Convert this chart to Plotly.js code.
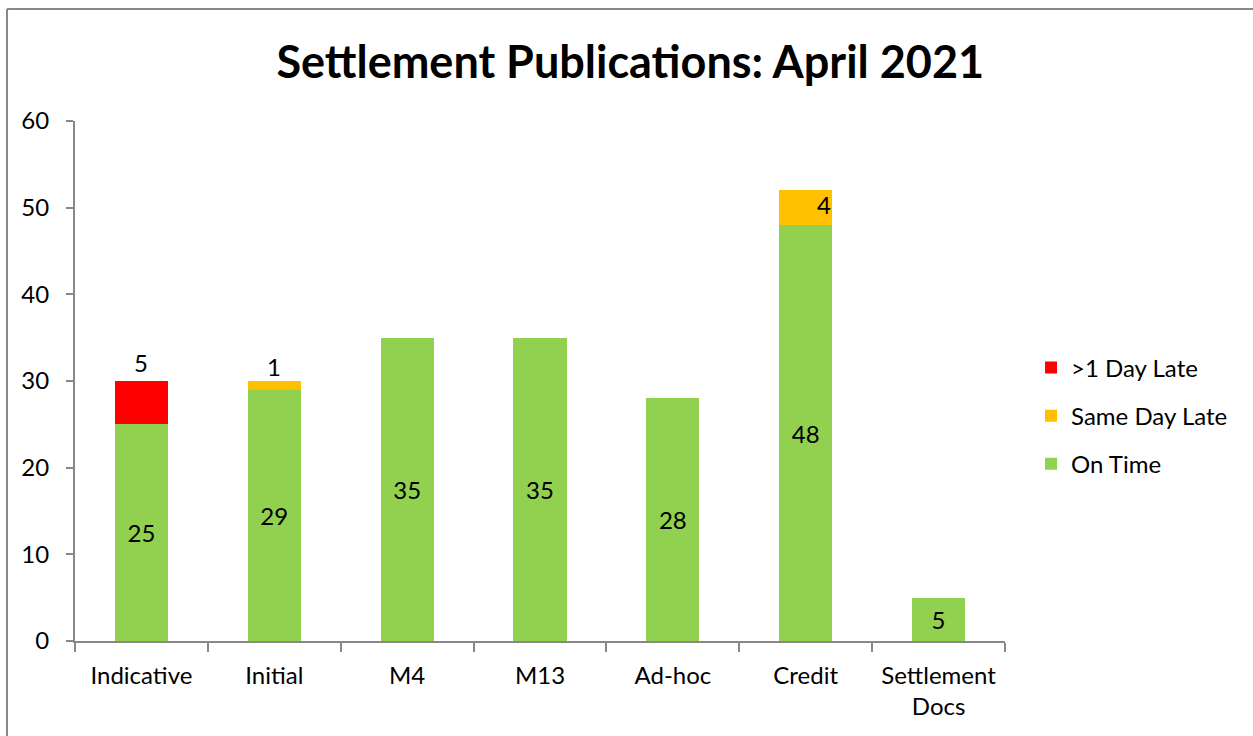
<!DOCTYPE html>
<html>
<head>
<meta charset="utf-8">
<script src="https://cdn.plot.ly/plotly-3.0.1.min.js"></script>
<style>html,body{margin:0;padding:0;background:#fff;}#chart{width:1253px;height:736px;}</style>
</head>
<body>
<div id="chart"></div>
<script>
const categories = ["Indicative", "Initial", "M4", "M13", "Ad-hoc", "Credit", "Settlement<br>Docs"];
const onTime = [25, 29, 35, 35, 28, 48, 5];
const sameDayLate = [0, 1, 0, 0, 0, 4, 0];
const dayLate = [5, 0, 0, 0, 0, 0, 0];
const yTicks = [0, 10, 20, 30, 40, 50, 60];

const FONT = "Lato, 'Open Sans', sans-serif";
const GREEN = "#92D050", YELLOW = "#FFC000", RED = "#FF0000", AXIS = "#888888";
const FS = 24;

const traces = [
  {type: "bar", name: "On Time", x: categories, y: onTime, marker: {color: GREEN},
   text: onTime.map(String), textposition: "inside", insidetextanchor: "middle",
   textfont: {family: FONT, size: FS, color: "#000"}, legendgroup: "a", legendrank: 3},
  {type: "bar", name: "Same Day Late", x: categories, y: sameDayLate, marker: {color: YELLOW},
   textposition: "none", legendgroup: "b", legendrank: 2},
  {type: "bar", name: ">1 Day Late", x: categories, y: dayLate, marker: {color: RED},
   textposition: "none", legendgroup: "c", legendrank: 1}
];

const annotations = [];
categories.forEach((c, i) => {
  const base = onTime[i] + sameDayLate[i];
  if (dayLate[i] > 0) {
    annotations.push({x: c, y: base + dayLate[i], text: String(dayLate[i]), showarrow: false,
      yanchor: "bottom", yshift: 2, font: {family: FONT, size: FS, color: "#000"}});
  }
  if (sameDayLate[i] > 0) {
    if (sameDayLate[i] >= 3) {
      annotations.push({x: c, y: base, text: String(sameDayLate[i]), showarrow: false,
        yanchor: "top", xshift: 18, yshift: 2, font: {family: FONT, size: FS, color: "#000"}});
    } else {
      annotations.push({x: c, y: base, text: String(sameDayLate[i]), showarrow: false,
        yanchor: "bottom", yshift: -2, font: {family: FONT, size: FS, color: "#000"}});
    }
  }
});

const layout = {
  width: 1253, height: 736,
  margin: {l: 75, r: 248, t: 121, b: 95, pad: 0},
  paper_bgcolor: "#fff", plot_bgcolor: "#fff",
  barmode: "stack", bargap: 0.6,
  font: {family: FONT, size: FS, color: "#000"},
  title: {text: "<b>Settlement Publications: April 2021</b>", font: {family: FONT, size: 45, color: "#000"},
    x: 0.503, xref: "container", y: 1 - 62/736, yref: "container", xanchor: "center", yanchor: "middle"},
  xaxis: {type: "category", showline: true, linecolor: AXIS, linewidth: 2, ticks: "outside",
    tickson: "boundaries", ticklen: 9, tickcolor: AXIS, tickwidth: 2, showgrid: false,
    ticklabelstandoff: 12,
    tickfont: {family: FONT, size: FS, color: "#000"}, fixedrange: true},
  yaxis: {range: [0, 60], tickvals: yTicks, ticktext: yTicks.map(String), showline: true,
    linecolor: AXIS, linewidth: 2, ticks: "outside", ticklen: 7, tickcolor: AXIS, tickwidth: 2,
    ticklabelstandoff: 12,
    showgrid: false, zeroline: false, tickfont: {family: FONT, size: FS, color: "#000"}, fixedrange: true},
  legend: {x: 1.028, xanchor: "left", y: 0.433, yanchor: "middle", traceorder: "grouped",
    tracegroupgap: 14, font: {family: FONT, size: FS, color: "#000"}, bgcolor: "rgba(0,0,0,0)"},
  annotations: annotations,
  shapes: [
    {type: "line", xref: "paper", yref: "paper", x0: -0.0731, x1: -0.0731, y0: -0.3, y1: 1.2154,
     line: {color: AXIS, width: 2}},
    {type: "line", xref: "paper", yref: "paper", x0: -0.0731, x1: 1.4, y0: 1.2154, y1: 1.2154,
     line: {color: AXIS, width: 2}}
  ]
};

Plotly.newPlot("chart", traces, layout, {displayModeBar: false, staticPlot: true});
</script>
</body>
</html>
